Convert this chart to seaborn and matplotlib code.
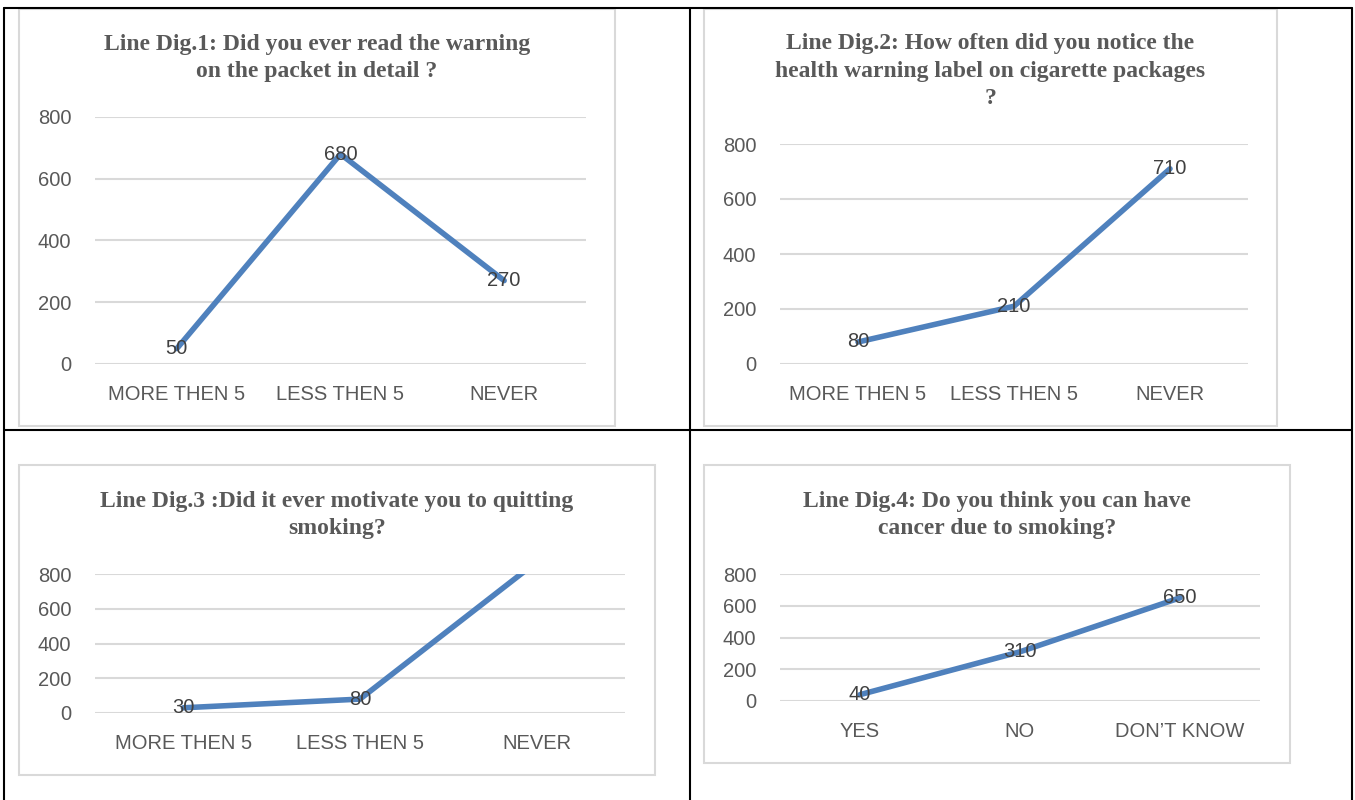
import matplotlib
matplotlib.use("Agg")
import matplotlib.pyplot as plt
import seaborn as sns
from matplotlib.lines import Line2D
from matplotlib.patches import Rectangle

# === Datos de las cuatro encuestas
cats_freq = ["MORE THEN 5", "LESS THEN 5", "NEVER"]
cats_cancer = ["YES", "NO", "DON\u2019T KNOW"]

vals_dig1 = [50, 680, 270]
vals_dig2 = [80, 210, 710]
vals_dig3 = [30, 80, 870]   # el ultimo punto sale del eje (> 800)
vals_dig4 = [40, 310, 650]

title_dig1 = "Line Dig.1: Did you ever read the warning\non the packet in detail ?"
title_dig2 = "Line Dig.2: How often did you notice the\nhealth warning label on cigarette packages\n?"
title_dig3 = "Line Dig.3 :Did it ever motivate you to quitting\nsmoking?"
title_dig4 = "Line Dig.4: Do you think you can have\ncancer due to smoking?"

yticks = [0, 200, 400, 600, 800]

sns.set_theme(style="white")
plt.rcParams["font.family"] = ["Liberation Sans", "DejaVu Sans"]

W, H = 1355, 800
fig = plt.figure(figsize=(W / 100, H / 100), dpi=100)

LINE_COLOR = "#4F81BD"
GRID_COLOR = "#D9D9D9"
TEXT_COLOR = "#595959"


def px_box(x0, y0, x1, y1):
    # pixel box (y desde arriba) -> coordenadas de figura
    return [x0 / W, (H - y1) / H, (x1 - x0) / W, (y1 - y0) / H]


def frame(x0, y0, x1, y1):
    fig.add_artist(Rectangle((x0 / W, (H - y1) / H), (x1 - x0) / W, (y1 - y0) / H,
                             transform=fig.transFigure, facecolor="none",
                             edgecolor=GRID_COLOR, linewidth=1.5, zorder=0))


def chart(box, cats, vals, title, title_xy):
    ax = fig.add_axes(px_box(*box))
    sns.lineplot(x=cats, y=vals, ax=ax, color=LINE_COLOR, linewidth=4, sort=False)
    ax.set_xlim(-0.5, len(cats) - 0.5)
    ax.set_ylim(0, 800)
    ax.set_yticks(yticks)
    ax.yaxis.grid(True, color=GRID_COLOR, linewidth=1.5)
    ax.set_axisbelow(True)
    for s in ax.spines.values():
        s.set_visible(False)
    ax.tick_params(axis="y", length=0, pad=17, labelsize=14.5, labelcolor=TEXT_COLOR)
    ax.tick_params(axis="x", length=0, pad=15, labelsize=14.5, labelcolor=TEXT_COLOR)
    ax.set_xlabel("")
    ax.set_ylabel("")
    for i, v in enumerate(vals):
        if v <= 800:
            ax.text(i, v, str(v), ha="center", va="center", fontsize=14.5, color="#404040")
    fig.text(title_xy[0] / W, 1 - title_xy[1] / H, title, ha="center", va="center",
             family="Liberation Serif", fontweight="bold", fontsize=17,
             color=TEXT_COLOR, linespacing=1.42)
    return ax


# === Marcos de los graficos
frame(19, 9, 615, 426)
frame(704, 9, 1277, 426)
frame(19, 465, 655, 775)
frame(704, 465, 1290, 763)

chart((95, 117, 586, 364), cats_freq, vals_dig1, title_dig1, (317, 58))
chart((780, 144, 1248, 364), cats_freq, vals_dig2, title_dig2, (990, 71))
chart((95, 574, 625, 713), cats_freq, vals_dig3, title_dig3, (337, 515))
chart((780, 574, 1260, 701), cats_cancer, vals_dig4, title_dig4, (997, 515))

# === Lineas de la tabla
for (x0, y0, x1, y1) in [(4, 8, 1352, 8), (4, 8, 4, 800), (690, 8, 690, 800),
                         (1352, 8, 1352, 800), (4, 430, 1352, 430)]:
    fig.add_artist(Line2D([x0 / W, x1 / W], [1 - y0 / H, 1 - y1 / H],
                          transform=fig.transFigure, color="black", linewidth=1.5))

fig.savefig("out.png", dpi=100)
